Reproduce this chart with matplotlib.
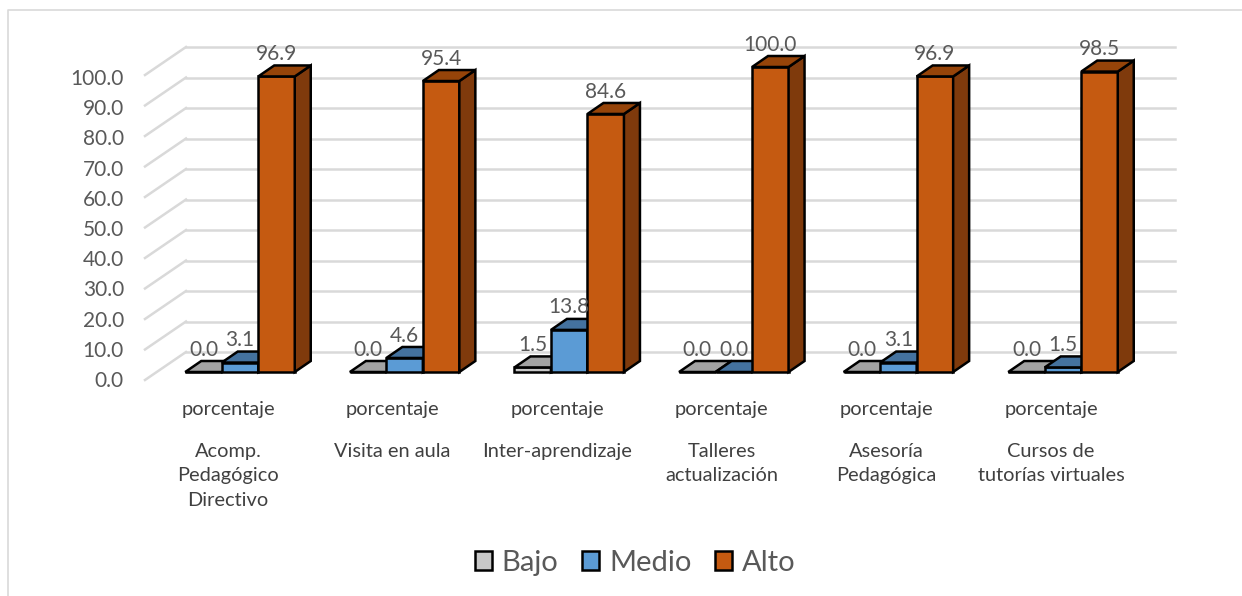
# -*- coding: utf-8 -*-
# Barras 3D (estilo Excel) dibujadas a mano: frente con ax.bar, tapa y lado con Polygon
import matplotlib
matplotlib.use('Agg')
import matplotlib.pyplot as plt
from matplotlib.patches import Polygon, Patch

# ---- Data
categorias = ['Acomp.\nPedagógico\nDirectivo', 'Visita en aula', 'Inter-aprendizaje',
              'Talleres\nactualización', 'Asesoría\nPedagógica',
              'Cursos de\ntutorías virtuales']
sub_label = 'porcentaje'
bajo = [0.0, 0.0, 1.5, 0.0, 0.0, 0.0]
medio = [3.1, 4.6, 13.8, 0.0, 3.1, 1.5]
alto = [96.9, 95.4, 84.6, 100.0, 96.9, 98.5]
y_ticks = [0, 10, 20, 30, 40, 50, 60, 70, 80, 90, 100]

# ---- Settings
W, H = 1242, 596
x0_px, x_step = 240.0, 164.6   # centro del primer grupo, px por categoria
y0_px, y_step = 372.0, 3.05    # base de las barras, px por unidad
bar_w = 36.5 / x_step
dx, dy = 16.0 / x_step, 11.0 / y_step          # profundidad de barra
wall_dx, wall_dy = 41.0 / x_step, 28.0 / y_step
grid_y0 = -8.0 / y_step                         # frente de la rejilla
txt_color = '#595959'
cat_color = '#404040'
grid_color = '#d9d9d9'
edge_w = 1.8
font = 'Lato'

series = [
    ('Bajo', bajo, '#c8c8c8', '#a3a3a3', '#8c8c8c'),
    ('Medio', medio, '#5b9bd5', '#44729f', '#3a6288'),
    ('Alto', alto, '#c55a11', '#964409', '#7f3a0c'),
]

plt.rcParams['font.family'] = [font, 'DejaVu Sans']
fig = plt.figure(figsize=(W / 100, H / 100), dpi=100)
ax = fig.add_axes([0, 0, 1, 1])
ax.set_xlim(-x0_px / x_step, (W - x0_px) / x_step)
ax.set_ylim(-(H - y0_px) / y_step, y0_px / y_step)
ax.axis('off')

# ---- Marco del grafico
fx = lambda p: (p - x0_px) / x_step
fy = lambda p: (y0_px - p) / y_step
ax.plot([fx(8), fx(8), fx(W)], [fy(H), fy(10), fy(10)], color=grid_color, lw=1.2, zorder=1)

# ---- Rejilla y eje y
x_left = fx(145)
x_right = fx(1175)
for t in y_ticks:
    y = t + grid_y0
    ax.plot([x_left, x_left + wall_dx], [y, y + wall_dy], color=grid_color, lw=1.8, zorder=1)
    ax.plot([x_left + wall_dx, x_right], [y + wall_dy, y + wall_dy], color=grid_color, lw=1.8, zorder=1)
    # las etiquetas del eje van algo mas juntas que la rejilla
    ax.text(fx(124), fy(379) + t * 0.99, f'{t:.1f}', ha='right', va='center_baseline',
            fontsize=15, color=txt_color)

# ---- Barras
for s, (name, vals, c_front, c_top, c_side) in enumerate(series):
    for i, v in enumerate(vals):
        xc = i + (s - 1) * bar_w
        xl, xr = xc - bar_w / 2, xc + bar_w / 2
        z = 3 + s
        ax.bar(xc, v, width=bar_w, color=c_front, edgecolor='black', lw=edge_w, zorder=z)
        ax.add_patch(Polygon([(xr, 0), (xr + dx, dy), (xr + dx, v + dy), (xr, v)], closed=True,
                             fc=c_side, ec='black', lw=edge_w, zorder=z))
        ax.add_patch(Polygon([(xl, v), (xl + dx, v + dy), (xr + dx, v + dy), (xr, v)], closed=True,
                             fc=c_top, ec='black', lw=edge_w, zorder=z))
        ax.text(xc, v + dy + 4.4, f'{v:.1f}', ha='center', va='center_baseline', fontsize=15,
                color=txt_color, zorder=10)

# ---- Etiquetas de categoria
for i, cat in enumerate(categorias):
    xt = i - 12.0 / x_step
    ax.text(xt, fy(409), sub_label, ha='center', va='center', fontsize=14.4, color=cat_color)
    ax.text(xt, fy(443), cat, ha='center', va='top', fontsize=14.4, color=cat_color, linespacing=1.53)

# ---- Leyenda
handles = [Patch(fc=s[2], ec='black', lw=edge_w, label=s[0]) for s in series]
fig.legend(handles=handles, loc='center', bbox_to_anchor=(635 / W, 1 - 563 / H), ncol=3,
           frameon=False, fontsize=21, labelcolor=txt_color, handlelength=0.6, handleheight=0.6,
           handletextpad=0.33, columnspacing=0.8)

plt.savefig('out.png', dpi=100)
